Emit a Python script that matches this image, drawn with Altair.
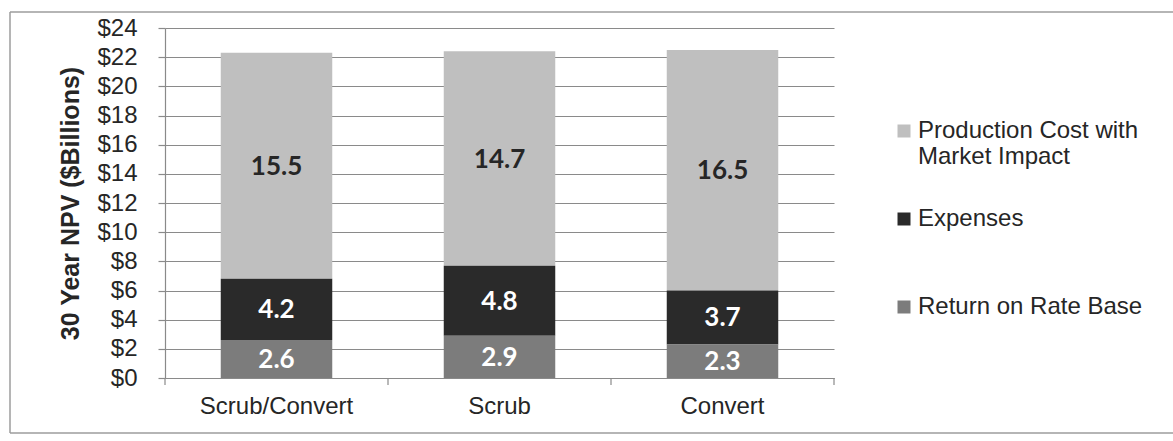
import altair as alt
import pandas as pd

# Scenario totals (30-year NPV, $ billions) by cost component
options = ["Scrub/Convert", "Scrub", "Convert"]
series = ["Production Cost with Market Impact", "Expenses", "Return on Rate Base"]
production = [15.5, 14.7, 16.5]
expenses = [4.2, 4.8, 3.7]
return_on_rate_base = [2.6, 2.9, 2.3]
y_ticks = [0, 2, 4, 6, 8, 10, 12, 14, 16, 18, 20, 22, 24]
legend_lines = {
    "Production Cost with Market Impact": ["Production Cost with", "Market Impact"],
}

colors = ["#BFBFBF", "#2A2A2A", "#7C7C7C"]
line_gray = "#8A8A8A"
text_dark = "#262626"

# stack position: return on rate base at the bottom, production cost on top
stack_rank = {series[2]: 1, series[1]: 2, series[0]: 3}
values_by_series = {series[0]: production, series[1]: expenses, series[2]: return_on_rate_base}

rows = []
for s in series:
    for opt, v in zip(options, values_by_series[s]):
        rows.append({"option": opt, "series": s, "value": v, "rank": stack_rank[s]})
df = pd.DataFrame(rows)

W, H = 669, 350
PAD_L, PAD_T = 165, 28
BAND_PAD_INNER, BAND_PAD_OUTER = 0.5, 0.25
step = W / (len(options) - BAND_PAD_INNER + 2 * BAND_PAD_OUTER)
gap_half = step * BAND_PAD_INNER / 2

x_scale = alt.Scale(paddingInner=BAND_PAD_INNER, paddingOuter=BAND_PAD_OUTER)
x_axis = alt.Axis(
    title=None, ticks=False, labelAngle=0, labelFontSize=24,
    labelFont="Liberation Sans", labelColor=text_dark, labelPadding=16,
    domainColor=line_gray, domainWidth=1.2, grid=False,
)
y_scale = alt.Scale(domain=[0, 24], nice=False)
y_axis = alt.Axis(
    values=y_ticks, tickCount=len(y_ticks), labelOverlap=False, format="$.0f",
    title="30 Year NPV ($Billions)",
    titleFont="Liberation Sans", titleFontSize=25, titleFontWeight="bold",
    titleColor=text_dark, titlePadding=13,
    labelFont="Liberation Sans", labelFontSize=24, labelColor=text_dark,
    labelPadding=21, tickSize=7, tickColor=line_gray, tickWidth=1.2,
    domainColor=line_gray, domainWidth=1.2,
    grid=True, gridColor=line_gray, gridWidth=1.2,
)


def x_enc(**kw):
    return alt.X("option:N", sort=options, scale=x_scale, axis=x_axis, **kw)


def y_enc(field):
    return alt.Y(field, scale=y_scale, axis=y_axis)


# two-line legend labels, padded so every entry has the same height
label_expr_parts = []
for name, lines in legend_lines.items():
    arr = ", ".join("'" + ln + "'" for ln in lines)
    label_expr_parts.append(f"datum.label == '{name}' ? [{arr}]")
label_expr = " : ".join(label_expr_parts) + " : [datum.label, '']"

base = alt.Chart(df).transform_stack(
    stack="value", groupby=["option"], sort=[alt.SortField("rank", order="ascending")],
    as_=["y0", "y1"],
).transform_calculate(mid="(datum.y0 + datum.y1) / 2")

bars = base.mark_bar().encode(
    x=x_enc(),
    y=y_enc("y0:Q"),
    y2="y1:Q",
    color=alt.Color(
        "series:N",
        scale=alt.Scale(domain=series, range=colors),
        legend=alt.Legend(
            title=None, orient="none", legendX=727, legendY=91, direction="vertical",
            labelFont="Liberation Sans", labelFontSize=24, labelColor=text_dark,
            labelLimit=400, labelOffset=2, labelExpr=label_expr,
            symbolType="square", symbolSize=169, symbolStrokeWidth=0,
            rowPadding=38, padding=0,
        ),
    ),
)

labels = base.mark_text(
    font="Lato", fontWeight="bold", fontSize=26, baseline="middle", dy=1,
).encode(
    x=x_enc(),
    y=y_enc("mid:Q"),
    text=alt.Text("value:Q", format=".1f"),
    color=alt.condition(
        alt.datum.series == series[0], alt.value(text_dark), alt.value("#FFFFFF")
    ),
)

# category boundary ticks below the x axis
bounds = alt.Chart(pd.DataFrame({"option": options})).mark_rule(
    xOffset=-gap_half, color=line_gray, strokeWidth=1.2,
).encode(x=x_enc(bandPosition=0), y=alt.value(H), y2=alt.value(H + 7))

last_bound = alt.Chart(pd.DataFrame({"k": [0]})).mark_rule(
    color=line_gray, strokeWidth=1.2,
).encode(x=alt.value(W), y=alt.value(H), y2=alt.value(H + 7))

# outer frame around the chart
frame_color = "#9C9C9C"
one = pd.DataFrame({"k": [0]})
frame_left = alt.Chart(one).mark_rule(color=frame_color, strokeWidth=1.5).encode(
    x=alt.value(10 - PAD_L), y=alt.value(12 - PAD_T), y2=alt.value(433 - PAD_T)
)
frame_top = alt.Chart(one).mark_rule(color=frame_color, strokeWidth=1.5).encode(
    x=alt.value(10 - PAD_L), x2=alt.value(1180 - PAD_L), y=alt.value(12 - PAD_T)
)
frame_bottom = alt.Chart(one).mark_rule(color=frame_color, strokeWidth=1.5).encode(
    x=alt.value(10 - PAD_L), x2=alt.value(1180 - PAD_L), y=alt.value(433 - PAD_T)
)

chart = alt.layer(
    bars, labels, bounds, last_bound, frame_left, frame_top, frame_bottom
).properties(
    width=W, height=H,
    padding={"left": PAD_L, "top": PAD_T, "right": 1173 - PAD_L - W, "bottom": 441 - PAD_T - H},
    autosize=alt.AutoSizeParams(type="none"),
    background="white",
).configure_view(stroke=None)

chart.save("out.html", embed_options={"renderer": "svg", "actions": False})
